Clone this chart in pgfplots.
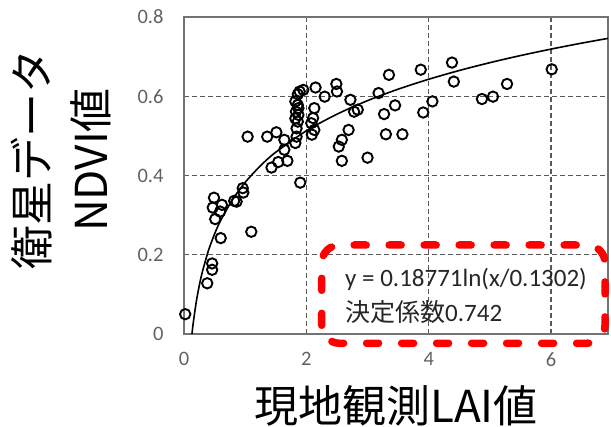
\documentclass[border=0pt]{standalone}
\usepackage{fontspec}
\setmainfont{Carlito}
\newfontfamily\cjk{Noto Sans CJK JP}
\usepackage{pgfplots}
\pgfplotsset{compat=1.18}
\begin{document}
\begin{tikzpicture}
\useasboundingbox (-184pt,-93pt) rectangle (427pt,334pt);
\begin{axis}[
  at={(0pt,0pt)}, anchor=south west,
  scale only axis, width=424pt, height=317pt,
  xmin=0, xmax=6.93, ymin=0, ymax=0.8,
  xtick={0,2,4,6}, ytick={0,0.2,0.4,0.6,0.8},
  /pgf/number format/assume math mode=true,
  tick style={draw=none},
  ticklabel style={font=\fontsize{20.5}{24}\selectfont, text=black!62},
  yticklabel style={xshift=-17pt},
  xticklabel style={yshift=-15pt},
  axis line style={black!55, line width=1.3pt},
  grid=major,
  major grid style={black!65, line width=1.2pt, dash pattern=on 5pt off 3pt},
  xlabel={現地観測LAI値},
  xlabel style={font=\cjk\fontsize{44}{50}\selectfont, at={(axis description cs:0.5,-0.227)}, anchor=center},
  ylabel={衛星データ\\NDVI値},
  ylabel style={font=\cjk\fontsize{44}{59}\selectfont, align=center, at={(axis description cs:-0.29,0.549)}, anchor=center},
]
\addplot[black, line width=1.6pt, smooth] coordinates {
(0.1302,0) (0.15,0.02657) (0.2,0.0806) (0.25,0.12246) (0.3,0.15668) (0.4,0.21068)
(0.5,0.25257) (0.6,0.28679) (0.8,0.34079) (1.0,0.38268) (1.25,0.42457) (1.5,0.45879)
(2,0.51279) (2.5,0.55468) (3,0.58890) (3.5,0.61784) (4,0.64290) (4.5,0.66501)
(5,0.68479) (5.5,0.70268) (6,0.71901) (6.5,0.73404) (7,0.74795)
};
\addplot[only marks, mark=o, mark size=5.2pt, mark options={black, line width=1.9pt}] coordinates {
(0.02,0.05) (0.38,0.128) (0.46,0.162) (0.46,0.178) (0.60,0.242) (1.10,0.258)
(0.51,0.29) (0.47,0.319) (0.49,0.344) (0.62,0.326) (0.59,0.309) (0.82,0.336)
(0.86,0.334) (0.96,0.368) (0.97,0.357) (1.04,0.498) (1.36,0.498) (1.51,0.509)
(1.64,0.49) (1.64,0.465) (1.43,0.42) (1.54,0.434) (1.69,0.437) (1.90,0.382)
(1.89,0.612) (1.95,0.616) (1.86,0.605) (2.15,0.622) (2.30,0.599) (1.82,0.587)
(1.86,0.578) (1.87,0.570) (1.83,0.561) (1.87,0.553) (1.82,0.544) (1.86,0.536)
(1.84,0.519) (1.84,0.498) (1.82,0.482) (2.13,0.570) (2.11,0.545) (2.08,0.532)
(2.13,0.515) (2.09,0.503) (2.49,0.631) (2.50,0.612) (2.72,0.591) (2.78,0.561)
(2.84,0.566) (2.69,0.515) (2.58,0.49) (2.53,0.473) (2.58,0.437) (3.00,0.445)
(3.18,0.608) (3.35,0.654) (3.87,0.667) (4.38,0.685) (4.41,0.637) (3.45,0.577)
(3.27,0.555) (3.91,0.559) (4.06,0.587) (3.30,0.504) (3.57,0.504) (6.01,0.668)
(5.28,0.631) (5.05,0.599) (4.87,0.593)
};
\end{axis}
\draw[red, line width=7.5pt, line cap=round, dash pattern=on 12pt off 23pt, rounded corners=18pt]
  (137.7pt,-9.3pt) rectangle (421pt,89pt);
\node[anchor=base west, inner sep=0pt, text=black!85, font=\fontsize{25}{30}\selectfont] at (161pt,47.3pt) {y = 0.18771ln(x/0.1302)};
\node[anchor=base west, inner sep=0pt, text=black!85, font=\fontsize{25}{30}\selectfont] at (161pt,12.3pt) {{\cjk 決定係数}0.742};
\end{tikzpicture}
\end{document}
